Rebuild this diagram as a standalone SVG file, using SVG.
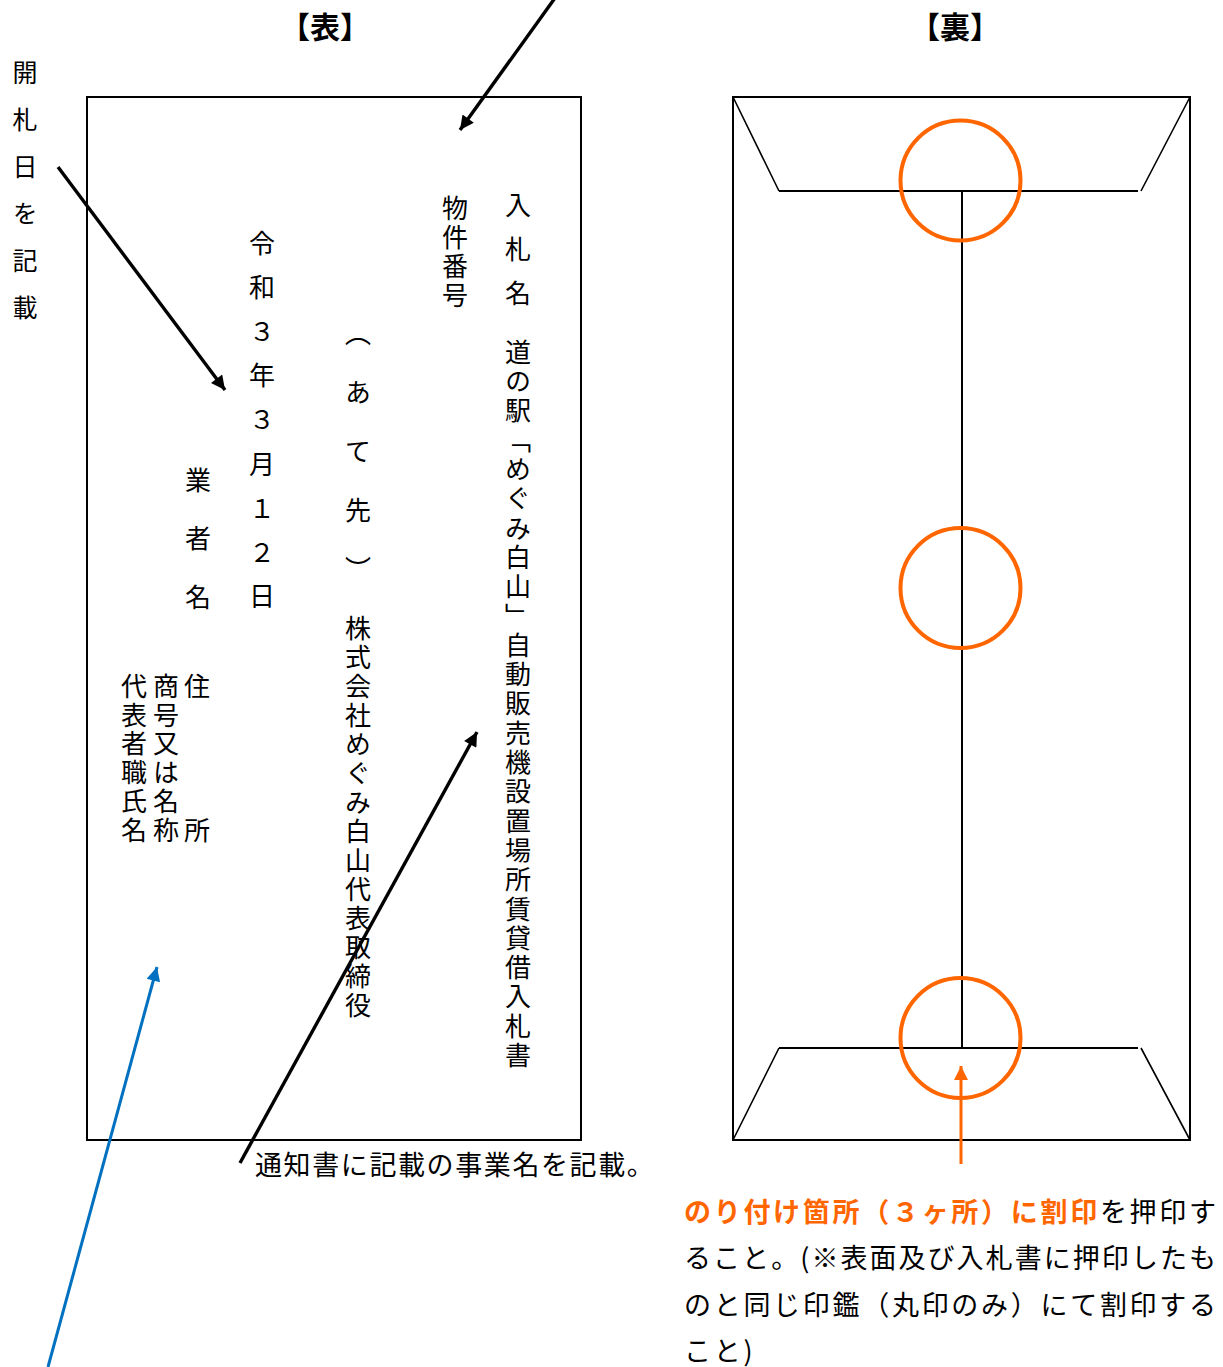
<svg xmlns="http://www.w3.org/2000/svg" width="1223" height="1367" viewBox="0 0 1223 1367">
<style>
.t{font-family:"Noto Sans CJK JP","Noto Sans CJK SC",sans-serif;fill:#000;font-size:26px}
.v{writing-mode:vertical-rl;text-anchor:start}
.h{font-weight:bold;font-size:30px}
.ln{stroke:#000;stroke-width:2;fill:none}
.fl{stroke:#000;stroke-width:1.6;fill:none}
.ar{stroke:#000;stroke-width:3.4;fill:none}
.seal{stroke:#FF6600;stroke-width:4;fill:none}
.or{fill:#FF6600;font-weight:bold}
</style>
<defs>
<marker id="ahk" viewBox="0 0 10 10" refX="10" refY="5" markerWidth="18" markerHeight="14" markerUnits="userSpaceOnUse" orient="auto"><path d="M0,0 L10,5 L0,10 z" fill="#000"/></marker>
<marker id="ahb" viewBox="0 0 10 10" refX="10" refY="5" markerWidth="18" markerHeight="14" markerUnits="userSpaceOnUse" orient="auto"><path d="M0,0 L10,5 L0,10 z" fill="#0070C0"/></marker>
<marker id="aho" viewBox="0 0 10 10" refX="10" refY="5" markerWidth="18" markerHeight="14" markerUnits="userSpaceOnUse" orient="auto"><path d="M0,0 L10,5 L0,10 z" fill="#FF6600"/></marker>
</defs>
<rect width="1223" height="1367" fill="#fff"/>

<g id="title-front"><text class="t h" x="325" y="38" text-anchor="middle">【表】</text></g>
<g id="title-back"><text class="t h" x="955" y="38" text-anchor="middle">【裏】</text></g>

<g id="label-date"><text class="t v" x="25" y="60" style="font-size:25px;letter-spacing:22px">開札日を記載</text></g>

<g id="front">
<rect class="ln" x="87" y="97" width="494" height="1043"/>
<text class="t v" x="518" y="192" style="letter-spacing:18px">入札名</text>
<text class="t v" x="518" y="339" style="letter-spacing:3.3px">道の駅「めぐみ白山」自動販売機設置場所賃貸借入札書</text>
<text class="t v" x="455" y="195" style="letter-spacing:3px">物件番号</text>
<text class="t v" x="358" y="320" style="letter-spacing:33px">（あて先）</text>
<text class="t v" x="358" y="615" style="letter-spacing:3px">株式会社めぐみ白山代表取締役</text>
<text class="t v" x="262" y="230" style="letter-spacing:18.2px">令和３年３月１２日</text>
<text class="t v" x="198" y="467" style="letter-spacing:32.5px">業者名</text>
<text class="t v" x="197" y="673" style="letter-spacing:118px">住所</text>
<text class="t v" x="166" y="673" style="letter-spacing:2.8px">商号又は名称</text>
<text class="t v" x="134" y="673" style="letter-spacing:2.8px">代表者職氏名</text>
</g>

<g id="label-project"><text class="t" x="255" y="1175" style="font-size:27px;letter-spacing:1.6px">通知書に記載の事業名を記載。</text></g>

<g id="back">
<rect class="ln" x="733" y="97" width="457" height="1043"/>
<path class="fl" d="M733,97 L779,191 M1141,191 L1190,97 M779,1048 L733,1140 M1141,1048 L1190,1140"/>
<path class="ln" d="M779,191 H1138 M779,1048 H1138 M962,191 V1048"/>
<circle class="seal" cx="960.5" cy="180.5" r="60"/>
<circle class="seal" cx="960.5" cy="588" r="60"/>
<circle class="seal" cx="960.5" cy="1038" r="60"/>
</g>

<g id="label-seal" class="t" style="font-size:27px">
<text x="684" y="1222" textLength="532" lengthAdjust="spacing"><tspan class="or">のり付け箇所（３ヶ所）に割印</tspan>を押印す</text>
<text x="684" y="1268" textLength="532" lengthAdjust="spacing">ること。(※表面及び入札書に押印したも</text>
<text x="684" y="1315" textLength="532" lengthAdjust="spacing">のと同じ印鑑（丸印のみ）にて割印する</text>
<text x="684" y="1361" style="letter-spacing:2.8px">こと)</text>
</g>

<g id="connectors">
<line class="ar" x1="555" y1="-2" x2="460" y2="130" marker-end="url(#ahk)"/>
<line class="ar" x1="58" y1="167" x2="225" y2="390" marker-end="url(#ahk)"/>
<line class="ar" x1="240" y1="1163" x2="477" y2="732" marker-end="url(#ahk)"/>
<line x1="48" y1="1367" x2="157" y2="967" stroke="#0070C0" stroke-width="3" marker-end="url(#ahb)"/>
<line x1="961" y1="1164" x2="961" y2="1066" stroke="#FF6600" stroke-width="3" marker-end="url(#aho)"/>
</g>
</svg>
